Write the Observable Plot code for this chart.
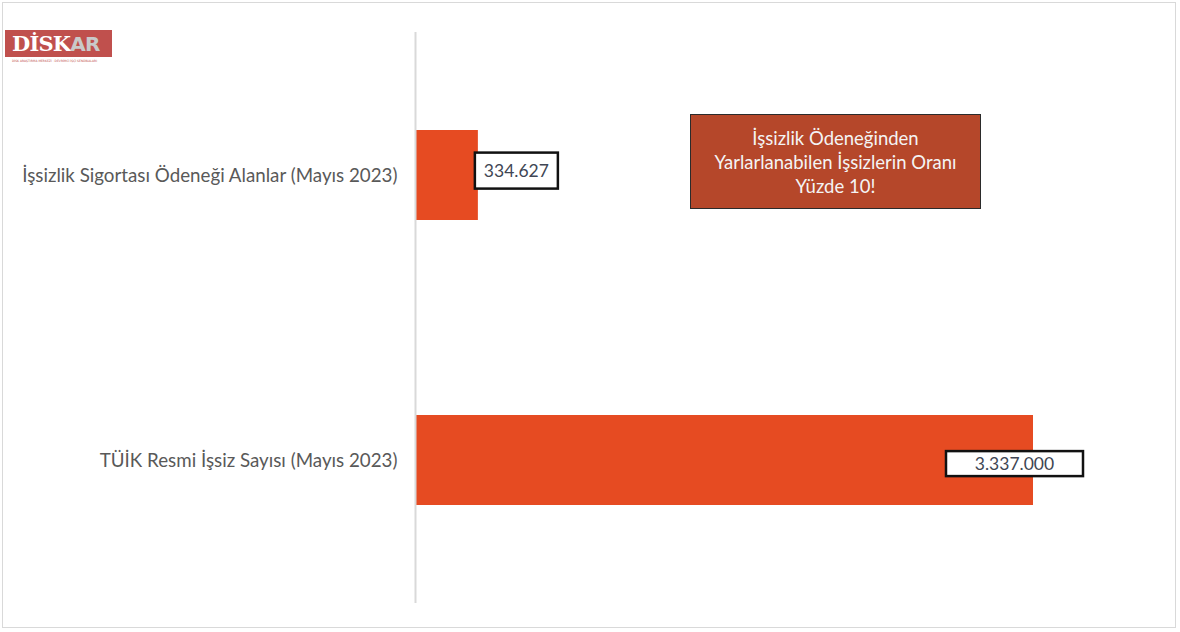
<!DOCTYPE html>
<html lang="tr">
<head>
<meta charset="utf-8">
<script src="https://cdn.jsdelivr.net/npm/d3@7"></script>
<script src="https://cdn.jsdelivr.net/npm/@observablehq/plot@0.6"></script>
<style>
  html, body { margin: 0; padding: 0; background: #fff; }
  #wrap { position: relative; width: 1180px; height: 632px; overflow: hidden; font-family: Lato, "Open Sans", sans-serif; }
  #frame { position: absolute; left: 2px; top: 2px; width: 1174px; height: 626px; border: 1px solid #d9d9d9; box-sizing: border-box; pointer-events: none; }
  #chart { position: absolute; left: 0; top: 0; }
  #logo { position: absolute; left: 5px; top: 30px; width: 107px; height: 27px; background: #c0504d; overflow: hidden; }
  #logo .name { position: absolute; left: 7px; top: 0px; font: bold 21px/27px "DejaVu Serif", serif; color: #fff; letter-spacing: -0.8px; white-space: nowrap; }
  #logo .name span { color: #c9c9c9; font-family: "DejaVu Sans", sans-serif; font-size: 20px; }
  #logo-sub { position: absolute; left: 12px; top: 59px; width: 96px; font: 3px/4px "DejaVu Sans", sans-serif; color: #c0504d; white-space: nowrap; }
  #note { position: absolute; left: 690px; top: 114px; width: 291px; height: 95px; box-sizing: border-box; background: #b5472a; border: 1.5px solid #2b2b2b; color: #f4f4f4; font: 18.5px/24px Lato, "Open Sans", sans-serif; text-align: center; display: flex; align-items: center; justify-content: center; }
</style>
</head>
<body>
<div id="wrap">
  <div id="chart"></div>
  <div id="logo"><div class="name">DİSK<span>AR</span></div></div>
  <div id="logo-sub">DİSK ARAŞTIRMA MERKEZİ · DEVRİMCİ İŞÇİ SENDİKALARI</div>
  <div id="note"><div>İşsizlik Ödeneğinden<br>Yarlarlanabilen İşsizlerin Oranı<br>Yüzde 10!</div></div>
  <div id="frame"></div>
</div>
<script>
// ---- data ----
const categories = [
  "İşsizlik Sigortası Ödeneği Alanlar (Mayıs 2023)",
  "TÜİK Resmi İşsiz Sayısı (Mayıs 2023)"
];
const values = [334627, 3337000];

// ---- label box styles (per label) ----
const labelOffsets = [{dx: 38, dy: -4}, {dx: -19, dy: 4}];
const labelBoxes = [{w: 83, h: 36}, {w: 137, h: 25}];

const trFormat = d3.formatLocale({decimal: ",", thousands: ".", grouping: [3], currency: ["", "₺"]}).format(",d");
const data = categories.map((c, i) => ({category: c, value: values[i], label: trFormat(values[i]), i}));

const barColor = "#e64b22";

const textMarks = data.map((d, i) => Plot.text([d], {
  x: "value", y: "category", text: "label",
  dx: labelOffsets[i].dx, dy: labelOffsets[i].dy,
  textAnchor: "middle", fill: "#404654", fontSize: 17.5
}));

const chart = Plot.plot({
  width: 1180,
  height: 632,
  marginLeft: 416,
  marginRight: 147,
  marginTop: 32,
  marginBottom: 29,
  style: {fontFamily: "Lato, 'Open Sans', sans-serif", fontSize: "18.75px", background: "transparent", overflow: "visible"},
  x: {domain: [0, d3.max(values)], axis: null},
  y: {domain: categories, paddingInner: 0.685, paddingOuter: 0.3425, label: null, tickSize: 0, tickPadding: 19},
  marks: [
    Plot.barX(data, {x: "value", y: "category", fill: barColor}),
    Plot.ruleX([0], {stroke: "#d9d9d9", strokeWidth: 2, dx: -1}),
    Plot.axisY({tickSize: 0, tickPadding: 19, fontSize: 18.75, color: "#595959", label: null}),
    ...textMarks
  ]
});
document.getElementById("chart").appendChild(chart);

// boxes behind data labels
const svgNS = "http://www.w3.org/2000/svg";
chart.querySelectorAll("text").forEach(node => {
  const i = data.findIndex(d => d.label === node.textContent);
  if (i < 0) return;
  const bb = node.getBBox();
  const cx = bb.x + bb.width / 2, cy = bb.y + bb.height / 2;
  const rect = document.createElementNS(svgNS, "rect");
  rect.setAttribute("x", cx - labelBoxes[i].w / 2);
  rect.setAttribute("y", cy - labelBoxes[i].h / 2);
  rect.setAttribute("width", labelBoxes[i].w);
  rect.setAttribute("height", labelBoxes[i].h);
  rect.setAttribute("fill", "#fff");
  rect.setAttribute("stroke", "#111");
  rect.setAttribute("stroke-width", 2.5);
  const t = node.getAttribute("transform");
  if (t) rect.setAttribute("transform", t);
  node.parentNode.insertBefore(rect, node);
});
</script>
</body>
</html>
